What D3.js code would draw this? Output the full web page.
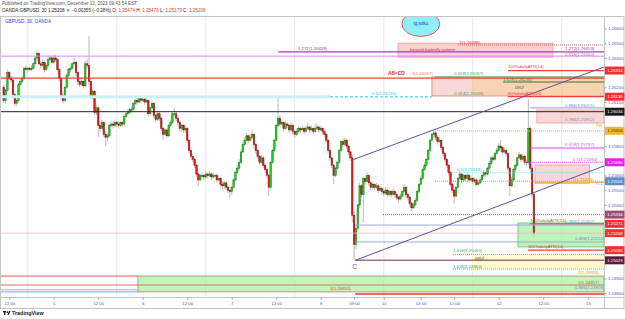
<!DOCTYPE html>
<html>
<head>
<meta charset="utf-8">
<script src="https://cdn.jsdelivr.net/npm/d3@7"></script>
<style>
  body { margin: 0; background: #fff; }
  svg { display: block; font-family: "Liberation Sans", Arial, sans-serif; }
</style>
</head>
<body>
<svg id="chart" width="625" height="319"></svg>
<script>
// GBPUSD 30 min bars, Dec 4 10:30 -> Dec 12 09:30 (EST)
const opens = [
  1.2620,1.2611,1.2618,1.2630,1.2626,1.2625,1.2615,1.2609,1.2611,1.2622,
  1.2624,1.2626,1.2633,1.2632,1.2633,1.2632,1.2633,1.2636,1.2640,1.2643,
  1.2636,1.2635,1.2637,1.2632,1.2635,1.2639,1.2640,1.2637,1.2640,1.2639,
  1.2632,1.2626,1.2614,1.2611,1.2620,1.2628,1.2632,1.2633,1.2636,1.2637,
  1.2630,1.2624,1.2622,1.2624,1.2621,1.2636,1.2635,1.2624,1.2614,1.2617,
  1.2603,1.2606,1.2594,1.2592,1.2596,1.2588,1.2586,1.2587,1.2594,1.2595,
  1.2594,1.2596,1.2595,1.2594,1.2596,1.2595,1.2600,1.2602,1.2603,1.2605,
  1.2605,1.2609,1.2611,1.2610,1.2613,1.2611,1.2612,1.2610,1.2611,1.2602,
  1.2606,1.2609,1.2601,1.2598,1.2602,1.2599,1.2592,1.2588,1.2591,1.2587,
  1.2594,1.2596,1.2602,1.2602,1.2599,1.2596,1.2592,1.2594,1.2591,1.2592,
  1.2584,1.2577,1.2573,1.2571,1.2567,1.2561,1.2557,1.2560,1.2560,1.2559,
  1.2561,1.2560,1.2561,1.2559,1.2560,1.2560,1.2557,1.2558,1.2554,1.2553,
  1.2555,1.2552,1.2550,1.2549,1.2552,1.2557,1.2562,1.2565,1.2569,1.2576,
  1.2581,1.2584,1.2587,1.2584,1.2586,1.2588,1.2581,1.2577,1.2573,1.2569,
  1.2572,1.2567,1.2564,1.2560,1.2552,1.2569,1.2577,1.2584,1.2594,1.2599,
  1.2595,1.2596,1.2592,1.2595,1.2594,1.2591,1.2594,1.2590,1.2588,1.2590,
  1.2592,1.2591,1.2592,1.2590,1.2592,1.2593,1.2591,1.2592,1.2590,1.2592,
  1.2593,1.2591,1.2592,1.2590,1.2588,1.2584,1.2577,1.2572,1.2567,1.2560,
  1.2565,1.2569,1.2577,1.2583,1.2581,1.2584,1.2580,1.2576,1.2572,1.2533,
  1.2513,1.2524,1.2540,1.2553,1.2547,1.2558,1.2556,1.2560,1.2555,1.2552,
  1.2554,1.2552,1.2553,1.2550,1.2551,1.2549,1.2548,1.2550,1.2547,1.2549,
  1.2547,1.2549,1.2547,1.2545,1.2544,1.2546,1.2549,1.2552,1.2547,1.2545,
  1.2541,1.2538,1.2540,1.2543,1.2549,1.2554,1.2558,1.2564,1.2567,1.2571,
  1.2577,1.2584,1.2588,1.2589,1.2586,1.2583,1.2584,1.2579,1.2575,1.2571,
  1.2567,1.2562,1.2554,1.2550,1.2546,1.2552,1.2558,1.2561,1.2557,1.2560,
  1.2558,1.2560,1.2557,1.2558,1.2556,1.2557,1.2554,1.2555,1.2557,1.2560,
  1.2562,1.2561,1.2565,1.2568,1.2572,1.2571,1.2575,1.2577,1.2580,1.2579,
  1.2576,1.2577,1.2575,1.2565,1.2553,1.2557,1.2564,1.2567,1.2572,1.2574,
  1.2571,1.2573,1.2569,1.2569,1.2592,1.2565,1.25474
];
const highs = [
  1.2622,1.2619,1.2632,1.2631,1.2628,1.2626,1.2616,1.2613,1.2623,1.2626,
  1.2628,1.2634,1.2635,1.2634,1.2634,1.2635,1.2637,1.2641,1.2645,1.2644,
  1.2638,1.2639,1.2638,1.2636,1.2641,1.2642,1.2641,1.2642,1.2642,1.2640,
  1.2633,1.2627,1.2616,1.2621,1.2629,1.2633,1.2635,1.2637,1.2640,1.2638,
  1.2631,1.2626,1.2626,1.2625,1.2638,1.2639,1.2655,1.2626,1.2619,1.2618,
  1.2608,1.2607,1.2597,1.2598,1.2597,1.2590,1.2589,1.2595,1.2597,1.2597,
  1.2598,1.2597,1.2597,1.2597,1.2597,1.2601,1.2603,1.2605,1.2606,1.2607,
  1.2610,1.2612,1.2613,1.2614,1.2614,1.2614,1.2613,1.2613,1.2612,1.2607,
  1.2611,1.2610,1.2602,1.2604,1.2604,1.2600,1.2593,1.2592,1.2592,1.2595,
  1.2598,1.2603,1.2606,1.2604,1.2600,1.2597,1.2595,1.2595,1.2594,1.2593,
  1.2585,1.2579,1.2575,1.2572,1.2568,1.2562,1.2561,1.2562,1.2561,1.2563,
  1.2562,1.2563,1.2562,1.2562,1.2561,1.2561,1.2560,1.2559,1.2556,1.2556,
  1.2556,1.2553,1.2551,1.2553,1.2558,1.2563,1.2567,1.2571,1.2578,1.2583,
  1.2586,1.2589,1.2588,1.2588,1.2591,1.2589,1.2582,1.2578,1.2574,1.2574,
  1.2573,1.2568,1.2565,1.2561,1.2570,1.2578,1.2585,1.2595,1.2613,1.2601,
  1.2598,1.2597,1.2597,1.2596,1.2595,1.2596,1.2595,1.2591,1.2592,1.2594,
  1.2593,1.2594,1.2593,1.2594,1.2596,1.2594,1.2594,1.2593,1.2595,1.2595,
  1.2594,1.2594,1.2593,1.2591,1.2589,1.2585,1.2578,1.2573,1.2568,1.2566,
  1.2570,1.2578,1.2584,1.2585,1.2586,1.2585,1.2581,1.2577,1.2574,1.2536,
  1.2526,1.2541,1.2555,1.2554,1.2559,1.2560,1.2562,1.2561,1.2556,1.2556,
  1.2555,1.2555,1.2554,1.2553,1.2552,1.2551,1.2552,1.2551,1.2550,1.2550,
  1.2551,1.2550,1.2548,1.2546,1.2548,1.2550,1.2554,1.2553,1.2548,1.2546,
  1.2542,1.2542,1.2545,1.2550,1.2555,1.2560,1.2565,1.2569,1.2572,1.2578,
  1.2585,1.2589,1.2591,1.2590,1.2587,1.2586,1.2585,1.2580,1.2576,1.2572,
  1.2568,1.2563,1.2555,1.2551,1.2553,1.2559,1.2563,1.2562,1.2561,1.2561,
  1.2562,1.2561,1.2560,1.2559,1.2559,1.2558,1.2557,1.2559,1.2561,1.2564,
  1.2563,1.2566,1.2570,1.2573,1.2574,1.2576,1.2579,1.2582,1.2584,1.2580,
  1.2579,1.2578,1.2576,1.2566,1.2559,1.2565,1.2568,1.2573,1.2576,1.2575,
  1.2575,1.2574,1.2571,1.2612,1.2594,1.2567,1.25476
];
const lows = [
  1.2609,1.2609,1.2617,1.2625,1.2623,1.2613,1.2607,1.2607,1.2610,1.2621,
  1.2623,1.2625,1.2631,1.2630,1.2631,1.2631,1.2632,1.2635,1.2638,1.2635,
  1.2633,1.2634,1.2630,1.2631,1.2634,1.2638,1.2636,1.2636,1.2637,1.2631,
  1.2624,1.2611,1.2609,1.2610,1.2619,1.2627,1.2630,1.2632,1.2635,1.2628,
  1.2622,1.2620,1.2621,1.2619,1.2620,1.2633,1.2622,1.2612,1.2612,1.2601,
  1.2601,1.2586,1.2590,1.2591,1.2586,1.2580,1.2583,1.2586,1.2593,1.2592,
  1.2593,1.2593,1.2592,1.2593,1.2593,1.2594,1.2599,1.2601,1.2602,1.2603,
  1.2604,1.2608,1.2608,1.2609,1.2609,1.2610,1.2608,1.2609,1.2600,1.2601,
  1.2605,1.2599,1.2596,1.2597,1.2597,1.2590,1.2584,1.2587,1.2585,1.2586,
  1.2593,1.2595,1.2600,1.2597,1.2594,1.2590,1.2590,1.2589,1.2589,1.2582,
  1.2575,1.2571,1.2569,1.2565,1.2559,1.2553,1.2556,1.2558,1.2557,1.2558,
  1.2558,1.2559,1.2557,1.2558,1.2558,1.2555,1.2556,1.2552,1.2551,1.2551,
  1.2550,1.2548,1.2545,1.2547,1.2551,1.2556,1.2561,1.2564,1.2568,1.2575,
  1.2580,1.2583,1.2582,1.2583,1.2585,1.2579,1.2575,1.2571,1.2567,1.2568,
  1.2565,1.2562,1.2558,1.2546,1.2551,1.2568,1.2576,1.2583,1.2593,1.2593,
  1.2594,1.2590,1.2591,1.2592,1.2589,1.2590,1.2588,1.2586,1.2587,1.2589,
  1.2589,1.2590,1.2588,1.2589,1.2591,1.2589,1.2590,1.2588,1.2589,1.2591,
  1.2589,1.2590,1.2588,1.2586,1.2582,1.2575,1.2570,1.2565,1.2554,1.2559,
  1.2564,1.2568,1.2576,1.2579,1.2580,1.2578,1.2574,1.2570,1.2528,1.25023,
  1.2510,1.2522,1.2538,1.2545,1.2528,1.2554,1.2555,1.2553,1.2550,1.2551,
  1.2550,1.2551,1.2548,1.2549,1.2547,1.2546,1.2547,1.2546,1.2546,1.2545,
  1.2546,1.2545,1.2543,1.2542,1.2543,1.2545,1.2548,1.2545,1.2543,1.2539,
  1.25355,1.2537,1.2539,1.2542,1.2548,1.2553,1.2557,1.2563,1.2566,1.2570,
  1.2576,1.2583,1.2586,1.2584,1.2581,1.2582,1.2577,1.2573,1.2569,1.2565,
  1.2560,1.2552,1.2548,1.2541,1.2545,1.2551,1.2557,1.2555,1.2556,1.2556,
  1.2557,1.2555,1.2556,1.2554,1.2555,1.2553,1.2553,1.2554,1.2556,1.2559,
  1.2559,1.2560,1.2564,1.2567,1.2569,1.2570,1.2574,1.2576,1.2577,1.2574,
  1.2575,1.2573,1.2563,1.2546,1.2552,1.2556,1.2562,1.2566,1.2571,1.2569,
  1.2570,1.2567,1.2566,1.2567,1.2562,1.2545,1.25179
];
const closes = [
  1.2611,1.2618,1.2630,1.2626,1.2625,1.2615,1.2609,1.2611,1.2622,1.2624,
  1.2626,1.2633,1.2632,1.2633,1.2632,1.2633,1.2636,1.2640,1.2643,1.2636,
  1.2635,1.2637,1.2632,1.2635,1.2639,1.2640,1.2637,1.2640,1.2639,1.2632,
  1.2626,1.2614,1.2611,1.2620,1.2628,1.2632,1.2633,1.2636,1.2637,1.2630,
  1.2624,1.2622,1.2624,1.2621,1.2636,1.2635,1.2624,1.2614,1.2617,1.2603,
  1.2606,1.2594,1.2592,1.2596,1.2588,1.2586,1.2587,1.2594,1.2595,1.2594,
  1.2596,1.2595,1.2594,1.2596,1.2595,1.2600,1.2602,1.2603,1.2605,1.2605,
  1.2609,1.2611,1.2610,1.2613,1.2611,1.2612,1.2610,1.2611,1.2602,1.2606,
  1.2609,1.2601,1.2598,1.2602,1.2599,1.2592,1.2588,1.2591,1.2587,1.2594,
  1.2596,1.2602,1.2602,1.2599,1.2596,1.2592,1.2594,1.2591,1.2592,1.2584,
  1.2577,1.2573,1.2571,1.2567,1.2561,1.2557,1.2560,1.2560,1.2559,1.2561,
  1.2560,1.2561,1.2559,1.2560,1.2560,1.2557,1.2558,1.2554,1.2553,1.2555,
  1.2552,1.2550,1.2549,1.2552,1.2557,1.2562,1.2565,1.2569,1.2576,1.2581,
  1.2584,1.2587,1.2584,1.2586,1.2588,1.2581,1.2577,1.2573,1.2569,1.2572,
  1.2567,1.2564,1.2560,1.2552,1.2569,1.2577,1.2584,1.2594,1.2599,1.2595,
  1.2596,1.2592,1.2595,1.2594,1.2591,1.2594,1.2590,1.2588,1.2590,1.2592,
  1.2591,1.2592,1.2590,1.2592,1.2593,1.2591,1.2592,1.2590,1.2592,1.2593,
  1.2591,1.2592,1.2590,1.2588,1.2584,1.2577,1.2572,1.2567,1.2560,1.2565,
  1.2569,1.2577,1.2583,1.2581,1.2584,1.2580,1.2576,1.2572,1.2533,1.2513,
  1.2524,1.2540,1.2553,1.2547,1.2558,1.2556,1.2560,1.2555,1.2552,1.2554,
  1.2552,1.2553,1.2550,1.2551,1.2549,1.2548,1.2550,1.2547,1.2549,1.2547,
  1.2549,1.2547,1.2545,1.2544,1.2546,1.2549,1.2552,1.2547,1.2545,1.2541,
  1.2538,1.2540,1.2543,1.2549,1.2554,1.2558,1.2564,1.2567,1.2571,1.2577,
  1.2584,1.2588,1.2589,1.2586,1.2583,1.2584,1.2579,1.2575,1.2571,1.2567,
  1.2562,1.2554,1.2550,1.2546,1.2552,1.2558,1.2561,1.2557,1.2560,1.2558,
  1.2560,1.2557,1.2558,1.2556,1.2557,1.2554,1.2555,1.2557,1.2560,1.2562,
  1.2561,1.2565,1.2568,1.2572,1.2571,1.2575,1.2577,1.2580,1.2579,1.2576,
  1.2577,1.2575,1.2565,1.2553,1.2557,1.2564,1.2567,1.2572,1.2574,1.2571,
  1.2573,1.2569,1.2569,1.2592,1.2565,1.25474,1.25208
];

// time axis (bar index of each label) and session starts (17:00 EST)
const timeTickBars = [3, 27, 51, 75, 99, 123, 147, 171, 189, 205, 225, 243, 267, 291, 315];
const timeTickLabels = ["12:00", "5", "12:00", "6", "12:00", "7", "12:00", "8", "09:00", "10", "03:00", "12:00", "12", "12:00", "13"];
const sessionBars = [13, 61, 109, 157, 205, 253, 301];

// price axis
const priceTicks = [1.266, 1.265, 1.264, 1.262, 1.261, 1.258, 1.256, 1.255, 1.254, 1.249, 1.248];
const badgePrices = [1.26314, 1.26136, 1.26034, 1.25904, 1.25690, 1.25561, 1.25334, 1.25271, 1.25208, 1.25092, 1.25023];

// drawings: price levels, zones, channel, texts
const START = -1.5, END = 323.8;
const levels = [
  {name: "ext-1", price: 1.26488, from: 245, to: END},
  {name: "ext1272", price: 1.26441, from: 148, to: END},
  {name: "fib618top", price: 1.26412, from: START, to: END},
  {name: "atr100up", price: 1.26314, from: 272, to: END},
  {name: "abcd", price: 1.26262, from: START, to: END},
  {name: "fibNeg618", price: 1.26270, from: 232.6, to: END},
  {name: "ext1618up", price: 1.26236, from: 269.3, to: END},
  {name: "atr60", price: 1.26136, from: 272, to: END},
  {name: "halfBand", price: 1.26135, from: START, to: 176},
  {name: "halfDash", price: 1.26135, from: 176, to: 231},
  {name: "black", price: 1.26034, from: START, to: END},
  {name: "fib886up", price: 1.26060, from: 284, to: END},
  {name: "th", price: 1.25904, from: 232.6, to: END},
  {name: "fib618mid", price: 1.25787, from: 284, to: END},
  {name: "fib5mag", price: 1.25690, from: 284, to: END},
  {name: "fib5cyan", price: 1.25619, from: 242, to: END},
  {name: "grayDot", price: 1.25561, from: 232.6, to: END},
  {name: "tcl", price: 1.25554, from: 286.6, to: END},
  {name: "redDot", price: 1.25334, from: 204.6, to: END},
  {name: "atr100dn", price: 1.25271, from: 284, to: END},
  {name: "fib786", price: 1.25263, from: 189.6, to: END},
  {name: "last", price: 1.25208, from: START, to: END},
  {name: "fib886", price: 1.25148, from: 189.6, to: END},
  {name: "atr120", price: 1.25092, from: 282.8, to: END},
  {name: "ext1414", price: 1.25063, from: 242.3, to: END},
  {name: "ext1618", price: 1.24964, from: 242.3, to: END},
  {name: "cLevel", price: 1.25023, from: 189.6, to: END},
  {name: "d1", price: 1.24916, from: START, to: 72.4},
  {name: "d2", price: 1.24855, from: START, to: END},
  {name: "pinkLow", price: 1.24822, from: START, to: 72.4},
  {name: "blueLow", price: 1.24808, from: START, to: 72.4},
  {name: "redLow", price: 1.24794, from: 189.6, to: END}
];
const zones = [
  {name: "butterfly", top: 1.26500, bottom: 1.26405, from: 212.7, to: 296.3},
  {name: "prz", top: 1.26270, bottom: 1.26141, from: 231, to: END},
  {name: "drzUp", top: 1.26270, bottom: 1.26145, from: 252.6, to: END},
  {name: "box786", top: 1.26046, bottom: 1.25957, from: 287.6, to: END},
  {name: "midBox", top: 1.25672, bottom: 1.25547, from: 286.6, to: 316},
  {name: "greenBox", top: 1.25277, bottom: 1.25114, from: 277.4, to: END},
  {name: "drzDown", top: 1.25063, bottom: 1.24964, from: 252.6, to: END},
  {name: "target", top: 1.24916, bottom: 1.24808, from: 72.4, to: END}
];
const channel = [
  {from: [188, 1.25706], to: [END, 1.26338]},
  {from: [189.6, 1.25023], to: [END, 1.25665]}
];
const notes = [
  {text: "-1(1.26488)", bar: 245, price: 1.26495, kind: "red"},
  {text: "bearish butterfly pattern", bar: 219.2, price: 1.26447, kind: "pattern"},
  {text: "1.272(1.26453)", bar: 302.8, price: 1.26454, kind: "purple"},
  {text: "0.618(1.26400)", bar: 302.8, price: 1.26416, kind: "pink"},
  {text: "1.272(1.26429)", bar: 158.7, price: 1.26454, kind: "purple"},
  {text: "100%dailyATR(14)", bar: 272, price: 1.26328, kind: "red"},
  {text: "AB=CD", bar: 207.3, price: 1.26284, kind: "abcd"},
  {text: "1(1.26267)", bar: 220.2, price: 1.26284, kind: "lightred"},
  {text: "-0.618(1.26267)", bar: 242.3, price: 1.26284, kind: "green"},
  {text: "1.618(1.26230)", bar: 269.3, price: 1.26246, kind: "darkgreen"},
  {text: "DRZ", bar: 275.8, price: 1.26189, kind: "drz"},
  {text: "60%dailyATR(14)", bar: 272, price: 1.26151, kind: "red"},
  {text: "-0.414(1.26149)", bar: 242.3, price: 1.26151, kind: "green"},
  {text: "0.5(1.26135)", bar: 198.6, price: 1.26151, kind: "cyan"},
  {text: "0.886(1.26051)", bar: 302.8, price: 1.26066, kind: "steel"},
  {text: "0.786(1.25952)", bar: 302.8, price: 1.25971, kind: "steel"},
  {text: "TH", bar: 319.5, price: 1.25927, kind: "orange"},
  {text: "0.618(1.25787)", bar: 302.8, price: 1.25801, kind: "pink"},
  {text: "0.5(1.25690)", bar: 307, price: 1.25702, kind: "pink"},
  {text: "0.5(1.25619)", bar: 244.5, price: 1.25631, kind: "cyan"},
  {text: "1(1.25554)", bar: 307, price: 1.25563, kind: "orange"},
  {text: "TCL", bar: 319, price: 1.25532, kind: "steel"},
  {text: "100%dailyATR(14)", bar: 284, price: 1.25287, kind: "red"},
  {text: "0.786(1.25267)", bar: 302.8, price: 1.25280, kind: "steel"},
  {text: "0.886(1.25153)", bar: 308.2, price: 1.25158, kind: "steel"},
  {text: "120%dailyATR(14)", bar: 282.8, price: 1.25110, kind: "red"},
  {text: "1.414(1.25063)", bar: 242.3, price: 1.25077, kind: "green"},
  {text: "DRZ", bar: 254.2, price: 1.25025, kind: "drz"},
  {text: "1.618(1.24964)", bar: 242.3, price: 1.24968, kind: "green"},
  {text: "1(1.24920)", bar: 309.8, price: 1.24927, kind: "orange"},
  {text: "1(1.24857)", bar: 309.8, price: 1.24865, kind: "brown"},
  {text: "0.886(1.24808)", bar: 308.2, price: 1.24825, kind: "steel"},
  {text: "1(1.24855)", bar: 176, price: 1.24818, kind: "red"}
];
const pointLabel = {text: "C", bar: 188, price: 1.24961};
const bubble = {text: "ig:soku", bar: 225, price: 1.26631};

// ---------------------------------------------------------------
const svg = d3.select("#chart");
const plotL = 1, plotR = 604, plotT = 17, plotB = 297;

const x = d3.scaleLinear().domain([-1.46, 323.8]).range([plotL, plotR]);
const y = d3.scaleLinear().domain([1.247735, 1.266782]).range([plotB, plotT]);

svg.append("rect").attr("width", 625).attr("height", 319).attr("fill", "#fff");

// header
const head = svg.append("g").attr("font-size", 4.6);
head.append("text").attr("x", 2).attr("y", 5).attr("fill", "#555")
    .text("Published on TradingView.com, December 12, 2023 09:43:54 EST");
const h2 = head.append("text").attr("x", 2).attr("y", 11.5).attr("fill", "#222");
h2.append("tspan").text("OANDA:GBPUSD, 30 1.25208 ");
h2.append("tspan").attr("fill", "#e53935").text("▼ ");
h2.append("tspan").text("−0.00355 (−0.28%) O: ");
h2.append("tspan").attr("fill", "#e53935").text("1.25474");
h2.append("tspan").text(" H: ");
h2.append("tspan").attr("fill", "#e53935").text("1.25476");
h2.append("tspan").text(" L: ");
h2.append("tspan").attr("fill", "#e53935").text("1.25179");
h2.append("tspan").text(" C: ");
h2.append("tspan").attr("fill", "#e53935").text("1.25208");

svg.append("defs").append("clipPath").attr("id", "plotClip")
   .append("rect").attr("x", plotL).attr("y", plotT).attr("width", plotR - plotL).attr("height", plotB - plotT);

const plot = svg.append("g").attr("clip-path", "url(#plotClip)");

// session grid
plot.append("g").selectAll("line").data(sessionBars).join("line")
    .attr("x1", d => x(d)).attr("x2", d => x(d))
    .attr("y1", plotT).attr("y2", plotB)
    .attr("stroke", "#e3e8f4").attr("stroke-width", 1);

// zones
const zoneStyle = {
  butterfly: {fill: "rgba(239,154,154,0.45)", stroke: "#ef9a9a"},
  prz: {fill: "rgba(229,115,115,0.28)", stroke: "#e57373"},
  drzUp: {fill: "rgba(255,204,102,0.35)", stroke: "none"},
  box786: {fill: "rgba(239,154,154,0.4)", stroke: "#ef9a9a"},
  midBox: {fill: "rgba(239,154,154,0.4)", stroke: "#ef9a9a"},
  greenBox: {fill: "rgba(144,238,144,0.6)", stroke: "#66bb6a"},
  drzDown: {fill: "rgba(255,249,196,0.85)", stroke: "none"},
  target: {fill: "rgba(170,240,160,0.7)", stroke: "#b08060"}
};
plot.append("g").selectAll("rect").data(zones).join("rect")
    .attr("x", d => x(d.from)).attr("width", d => x(d.to) - x(d.from))
    .attr("y", d => y(d.top)).attr("height", d => y(d.bottom) - y(d.top))
    .attr("fill", d => zoneStyle[d.name].fill)
    .attr("stroke", d => zoneStyle[d.name].stroke).attr("stroke-width", 0.8);

// candles
const bars = d3.range(closes.length);
const candles = plot.append("g");
candles.selectAll("line").data(bars).join("line")
    .attr("x1", i => x(i)).attr("x2", i => x(i))
    .attr("y1", i => y(highs[i])).attr("y2", i => y(lows[i]))
    .attr("stroke", "#a8a8a8").attr("stroke-width", 0.8);
const bodyW = 1.5;
candles.selectAll("rect").data(bars).join("rect")
    .attr("x", i => x(i) - bodyW / 2).attr("width", bodyW)
    .attr("y", i => y(Math.max(opens[i], closes[i])))
    .attr("height", i => Math.max(0.7, Math.abs(y(opens[i]) - y(closes[i]))))
    .attr("fill", i => closes[i] >= opens[i] ? "#1fd31f" : "#f01818")
    .attr("stroke", i => closes[i] >= opens[i] ? "#127a12" : "#8a0c0c")
    .attr("stroke-width", 0.5);

// levels
const lineStyle = {
  "ext-1": {c: "#e53935", w: 0.8, d: "1,1"},
  ext1272: {c: "#a33cc4", w: 1.2},
  fib618top: {c: "#ea80fc", w: 1},
  atr100up: {c: "#f44336", w: 1.2},
  abcd: {c: "#f44336", w: 1.2},
  fibNeg618: {c: "#4caf50", w: 1},
  ext1618up: {c: "#2e7d32", w: 1.2},
  atr60: {c: "#f44336", w: 1.2},
  halfBand: {c: "#c9f1f6", w: 3},
  halfDash: {c: "#26c6da", w: 1, d: "3,2"},
  black: {c: "#222", w: 1},
  fib886up: {c: "#7986cb", w: 0.8},
  th: {c: "#ffb74d", w: 1.2, d: "1,1"},
  fib618mid: {c: "#e040fb", w: 1},
  fib5mag: {c: "#e040fb", w: 1, d: "1,1"},
  fib5cyan: {c: "#80deea", w: 1, d: "1,1"},
  grayDot: {c: "#90a4ae", w: 1, d: "1,1"},
  tcl: {c: "#ffa726", w: 1},
  redDot: {c: "#c62828", w: 0.8, d: "1,1"},
  atr100dn: {c: "#f44336", w: 1.2},
  fib786: {c: "#9fa8da", w: 1},
  last: {c: "#f8b4c8", w: 0.8},
  fib886: {c: "#9fa8da", w: 1},
  atr120: {c: "#f44336", w: 1.2},
  ext1414: {c: "#66bb6a", w: 1, d: "1,1"},
  ext1618: {c: "#66bb6a", w: 1, d: "1,1"},
  cLevel: {c: "#a1707a", w: 1.5},
  d1: {c: "#ef5350", w: 1},
  d2: {c: "#d4725f", w: 1},
  pinkLow: {c: "#f48fb1", w: 1},
  blueLow: {c: "#64b5f6", w: 1},
  redLow: {c: "#e53935", w: 1.5}
};
plot.append("g").selectAll("line").data(levels).join("line")
    .attr("x1", d => x(d.from)).attr("x2", d => x(d.to))
    .attr("y1", d => y(d.price)).attr("y2", d => y(d.price))
    .attr("stroke", d => lineStyle[d.name].c)
    .attr("stroke-width", d => lineStyle[d.name].w)
    .attr("stroke-dasharray", d => lineStyle[d.name].d || null);

// channel
plot.append("g").selectAll("line").data(channel).join("line")
    .attr("x1", d => x(d.from[0])).attr("y1", d => y(d.from[1]))
    .attr("x2", d => x(d.to[0])).attr("y2", d => y(d.to[1]))
    .attr("stroke", "#5e4fa2").attr("stroke-width", 1);

// notes
const noteColor = {
  red: "#e53935", pattern: "#c62828", purple: "#9c27b0", pink: "#d54ee6",
  abcd: "#f21d1d", lightred: "#e57373", green: "#43a047", darkgreen: "#2e7d32",
  drz: "#5d4037", cyan: "#26c6da", steel: "#7986cb", orange: "#fb8c00", brown: "#8d6e63"
};
plot.append("g").selectAll("text").data(notes).join("text")
    .attr("x", d => x(d.bar)).attr("y", d => y(d.price))
    .attr("font-size", d => d.kind === "abcd" ? 4.8 : 4.3)
    .attr("font-weight", d => d.kind === "abcd" ? "bold" : null)
    .attr("font-style", d => d.kind === "pattern" || d.kind === "drz" ? "italic" : null)
    .attr("fill", d => noteColor[d.kind])
    .text(d => d.text);

plot.append("text")
    .attr("x", x(pointLabel.bar)).attr("y", y(pointLabel.price))
    .attr("font-size", 7).attr("fill", "#5c6bc0").text(pointLabel.text);

// ellipse note
const bub = plot.append("g");
bub.append("ellipse")
   .attr("cx", x(bubble.bar)).attr("cy", y(bubble.price))
   .attr("rx", 19).attr("ry", 12.5)
   .attr("fill", "#8ef0f5").attr("stroke", "#e53935").attr("stroke-width", 0.8);
bub.append("text")
   .attr("x", x(bubble.bar)).attr("y", y(bubble.price) + 1.5)
   .attr("text-anchor", "middle").attr("font-size", 4.6).attr("fill", "#1a3fd6")
   .text(bubble.text);

// symbol caption
svg.append("text").attr("x", 5).attr("y", 22.5).attr("font-size", 4.6)
   .attr("fill", "#2f3fd0").text("GBPUSD, 30, OANDA");

// frame
svg.append("rect").attr("x", 0.5).attr("y", 16.5).attr("width", 623.5).attr("height", 292)
   .attr("fill", "none").attr("stroke", "#c4c4c4").attr("stroke-width", 1);
svg.append("line").attr("x1", plotR + 0.5).attr("x2", plotR + 0.5).attr("y1", 16.5).attr("y2", 308.5)
   .attr("stroke", "#c4c4c4");
svg.append("line").attr("x1", 0.5).attr("x2", 624).attr("y1", plotB + 0.5).attr("y2", plotB + 0.5)
   .attr("stroke", "#c4c4c4");

// price axis
const yAxis = svg.append("g").attr("transform", `translate(${plotR + 0.5},0)`)
   .call(d3.axisRight(y).tickValues(priceTicks).tickSize(2).tickPadding(1.5).tickFormat(d3.format(".5f")));
yAxis.select(".domain").remove();
yAxis.selectAll("line").attr("stroke", "#8d94c8");
yAxis.selectAll("text").attr("font-size", 4.3).attr("fill", "#4b55d0").attr("font-family", "Liberation Sans, Arial, sans-serif");

// time axis
const xAxis = svg.append("g").attr("transform", `translate(0,${plotB + 0.5})`)
   .call(d3.axisBottom(x).tickValues(timeTickBars).tickSize(2).tickPadding(2.5)
   .tickFormat((d, i) => timeTickLabels[i]));
xAxis.select(".domain").remove();
xAxis.selectAll("line").attr("stroke", "#8d94c8");
xAxis.selectAll("text").attr("font-size", 4.3).attr("fill", "#4b55d0").attr("font-family", "Liberation Sans, Arial, sans-serif");

// price badges
const badgeFill = ["#f23030", "#f23030", "#1b1b1b", "#f2b53a", "#e91ee9", "#5b8fc7",
                   "#9c4e72", "#f23030", "#f23030", "#f23030", "#5e1a3a"];
const badgeText = ["#fff", "#fff", "#fff", "#333", "#fff", "#fff", "#fff", "#fff", "#fff", "#fff", "#fff"];
const badges = svg.append("g").selectAll("g").data(badgePrices).join("g")
   .attr("transform", d => `translate(${plotR + 1},${y(d)})`);
badges.append("rect").attr("x", 0).attr("y", -4).attr("width", 19.5).attr("height", 8)
   .attr("fill", (d, i) => badgeFill[i]);
badges.append("text").attr("x", 10).attr("y", 1.6).attr("text-anchor", "middle")
   .attr("font-size", 4.3).attr("fill", (d, i) => badgeText[i])
   .text(d => d3.format(".5f")(d));

// footer logo
const logo = svg.append("g").attr("transform", "translate(3,311)");
logo.append("rect").attr("x", 0).attr("y", 0).attr("width", 3).attr("height", 1.3).attr("fill", "#131722");
logo.append("rect").attr("x", 1).attr("y", 0).attr("width", 1.3).attr("height", 4).attr("fill", "#131722");
logo.append("circle").attr("cx", 4.4).attr("cy", 1.1).attr("r", 0.9).attr("fill", "#131722");
logo.append("path").attr("d", "M4.4 4 L6 0 L7.6 0 L5.6 4 Z").attr("fill", "#131722");
logo.append("text").attr("x", 9).attr("y", 4).attr("font-size", 5.4).attr("font-weight", "bold")
   .attr("fill", "#131722").text("TradingView");
</script>
</body>
</html>
